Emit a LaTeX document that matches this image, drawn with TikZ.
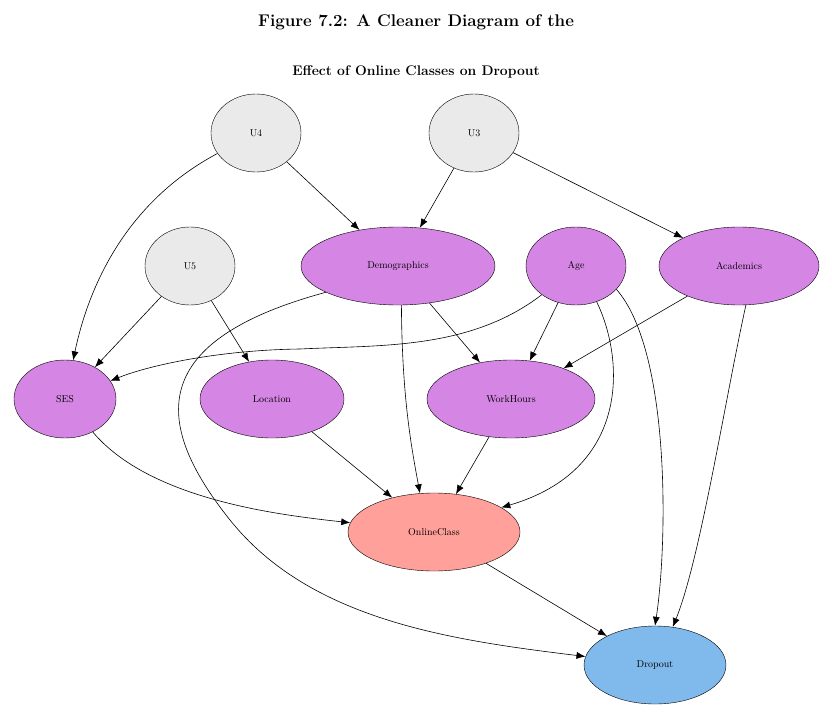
\documentclass[tikz,border=0pt]{standalone}
\usetikzlibrary{arrows.meta,shapes.geometric}
\begin{document}
\begin{tikzpicture}[x=1bp,y=-1bp,
  nd/.style={draw,ellipse,minimum height=78bp,inner sep=0pt,font=\normalsize},
  gr/.style={nd,fill=gr0},pu/.style={nd,fill=pu0},
  ar/.style={-{Latex[length=9bp,width=7bp]},line width=0.6pt}]
\definecolor{gr0}{HTML}{EAEAEA}\definecolor{pu0}{HTML}{D585E3}
\definecolor{sa0}{HTML}{FFA09A}\definecolor{bl0}{HTML}{80B9EC}
\useasboundingbox (0,0) rectangle (832,715);
\node (t1) at (416,22) {\fontsize{17}{20}\selectfont\bfseries Figure 7.2: A Cleaner Diagram of the};
\node (t2) at (416,72) {\fontsize{14}{17}\selectfont\bfseries Effect of Online Classes on Dropout};
\node[gr,minimum width=90bp] (U4) at (256,133) {U4};
\node[gr,minimum width=90bp] (U3) at (474,133) {U3};
\node[gr,minimum width=90bp] (U5) at (190,266) {U5};
\node[pu,minimum width=194bp] (D) at (398,266) {Demographics};
\node[pu,minimum width=100bp] (Age) at (576,266) {Age};
\node[pu,minimum width=160bp] (Ac) at (739,266) {Academics};
\node[pu,minimum width=102bp] (SES) at (65,399) {SES};
\node[pu,minimum width=144bp] (Lo) at (272,399) {Location};
\node[pu,minimum width=168bp] (WH) at (511,399) {WorkHours};
\node[nd,fill=sa0,minimum width=172bp] (OC) at (434,532) {OnlineClass};
\node[nd,fill=bl0,minimum width=142bp] (Dr) at (655,665) {Dropout};
\coordinate (m1) at (230,520);
\coordinate (m2) at (300,349);
\draw[ar] (U4) .. controls (130,200) and (90,280) .. (SES);
\draw[ar] (U4) -- (D);
\draw[ar] (U3) -- (D);
\draw[ar] (U3) -- (Ac);
\draw[ar] (U5) -- (SES);
\draw[ar] (U5) -- (Lo);
\draw[ar] (D.200) .. controls (150,340) and (150,420) .. (m1) .. controls (310,620) and (450,640) .. (Dr);
\draw[ar] (D) -- (WH);
\draw[ar] (D.275) .. controls (402,400) and (412,450) .. (OC.110);
\draw[ar] (Age.220) .. controls (470,350) and (380,345) .. (m2) .. controls (220,350) and (150,365) .. (SES);
\draw[ar] (Age) -- (WH);
\draw[ar] (Age.300) .. controls (625,360) and (630,470) .. (OC.20);
\draw[ar] (Age.330) .. controls (670,350) and (668,540) .. (Dr.north);
\draw[ar] (Ac) -- (WH);
\draw[ar] (Ac.280) .. controls (725,400) and (700,560) .. (Dr.65);
\draw[ar] (SES) .. controls (150,500) and (280,515) .. (OC);
\draw[ar] (Lo) -- (OC);
\draw[ar] (WH) -- (OC);
\draw[ar] (OC) -- (Dr);
\end{tikzpicture}
\end{document}
